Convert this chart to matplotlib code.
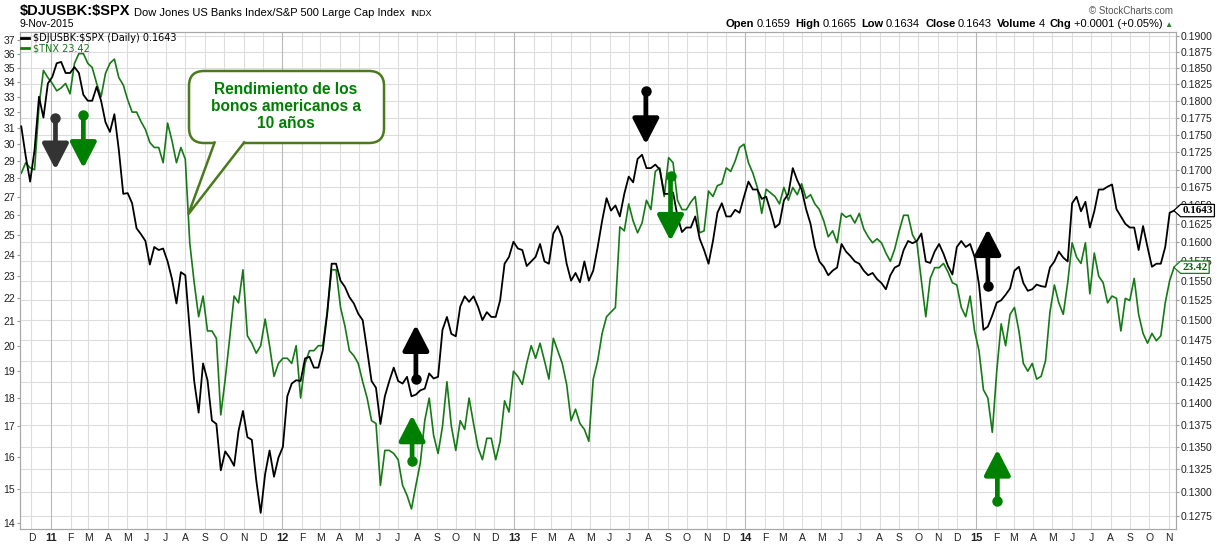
import numpy as np
import pandas as pd
import matplotlib
matplotlib.use('Agg')
import matplotlib.pyplot as plt
import matplotlib.transforms as mtransforms
from matplotlib.lines import Line2D
from matplotlib.patches import FancyBboxPatch, Polygon
from matplotlib.path import Path
from matplotlib.ticker import FixedLocator, FixedFormatter, NullLocator

plt.rcParams['font.family'] = ['Liberation Sans', 'DejaVu Sans']

# weekly values
dates = pd.date_range(end='2015-11-09', periods=261, freq='7D')

tnx = [28.3, 28.9, 28.6, 28.5, 32.4, 34.8, 34.3, 33.9, 33.4, 33.6,
       33.9, 33.2, 35.3, 36.0, 36.0, 35.3, 35.0, 33.9, 33.0, 34.6,
       35.3, 35.6, 34.3, 33.8, 32.8, 32.0, 32.0, 31.4, 30.9, 30.1,
       29.8, 29.8, 28.9, 31.3, 30.2, 28.9, 29.8, 29.1, 24.6, 22.7,
       21.2, 22.1, 20.6, 20.6, 20.3, 17.4, 18.7, 20.3, 22.1, 21.8,
       23.3, 20.4, 20.1, 19.7, 20.0, 21.1, 20.0, 18.8, 19.3, 19.5,
       19.5, 19.3, 20.0, 18.0, 19.3, 19.8, 19.8, 20.0, 20.0, 21.4,
       23.3, 23.3, 21.6, 20.8, 19.8, 19.6, 19.3, 18.6, 18.0, 17.2,
       17.1, 15.1, 16.2, 16.2, 16.1, 15.9, 15.1, 14.8, 14.4, 15.1,
       15.8, 17.2, 18.0, 16.7, 16.1, 17.0, 18.6, 17.0, 16.2, 17.2,
       16.9, 18.0, 17.1, 16.3, 15.9, 16.6, 16.6, 15.9, 16.5, 17.9,
       17.5, 19.0, 18.8, 18.5, 19.3, 20.0, 19.5, 20.1, 19.4, 18.7,
       20.3, 19.8, 19.3, 18.5, 17.2, 17.6, 17.1, 16.9, 16.5, 18.7,
       19.4, 20.5, 21.2, 21.4, 21.6, 25.4, 25.2, 26.6, 25.7, 25.1,
       25.6, 26.8, 26.3, 28.4, 28.6, 27.0, 29.2, 28.9, 26.8, 26.3,
       26.3, 26.7, 27.0, 25.1, 25.2, 27.3, 27.0, 27.6, 27.7, 28.6,
       28.4, 29.0, 29.8, 30.0, 28.9, 28.3, 27.5, 26.1, 27.4, 27.2,
       27.0, 26.6, 27.5, 26.8, 27.5, 27.1, 27.7, 26.9, 27.1, 26.6,
       26.3, 25.7, 24.9, 25.2, 24.6, 26.1, 25.9, 26.0, 25.6, 26.1,
       25.3, 24.9, 24.6, 24.8, 24.6, 24.1, 23.7, 24.3, 25.2, 26.0,
       26.0, 25.0, 24.6, 22.8, 21.2, 22.9, 23.4, 23.4, 23.6, 23.2,
       22.7, 22.6, 21.6, 21.2, 22.1, 20.6, 19.8, 18.3, 18.0, 16.8,
       19.0, 20.9, 20.0, 21.3, 21.6, 20.6, 19.3, 19.0, 19.3, 18.7,
       18.8, 19.4, 21.4, 22.6, 21.8, 21.3, 22.7, 24.6, 23.9, 23.6,
       24.6, 22.2, 24.1, 23.0, 22.7, 21.8, 22.1, 22.0, 20.6, 22.0,
       21.9, 22.9, 21.3, 20.5, 20.1, 20.5, 20.2, 20.4, 21.8, 22.8,
       23.42]

ratio = [0.1762, 0.1719, 0.1683, 0.1728, 0.1806, 0.1775, 0.1826, 0.1836, 0.1857, 0.1859,
         0.1842, 0.1842, 0.1851, 0.1842, 0.1809, 0.1800, 0.1800, 0.1821, 0.1800, 0.1768,
         0.1754, 0.1780, 0.1728, 0.1666, 0.1667, 0.1653, 0.1619, 0.1611, 0.1602, 0.1571,
         0.1594, 0.1590, 0.1592, 0.1575, 0.1552, 0.1521, 0.1561, 0.1557, 0.1488, 0.1426,
         0.1389, 0.1447, 0.1427, 0.1380, 0.1376, 0.1324, 0.1345, 0.1338, 0.1329, 0.1368,
         0.1391, 0.1361, 0.1358, 0.1313, 0.1278, 0.1320, 0.1346, 0.1317, 0.1338, 0.1350,
         0.1408, 0.1423, 0.1427, 0.1426, 0.1453, 0.1455, 0.1442, 0.1442, 0.1463, 0.1508,
         0.1572, 0.1572, 0.1550, 0.1542, 0.1529, 0.1521, 0.1508, 0.1500, 0.1463, 0.1426,
         0.1418, 0.1376, 0.1408, 0.1426, 0.1442, 0.1426, 0.1423, 0.1431, 0.1408, 0.1410,
         0.1415, 0.1417, 0.1435, 0.1429, 0.1431, 0.1488, 0.1504, 0.1483, 0.1480, 0.1517,
         0.1530, 0.1523, 0.1530, 0.1517, 0.1500, 0.1510, 0.1504, 0.1504, 0.1525, 0.1572,
         0.1581, 0.1601, 0.1592, 0.1590, 0.1569, 0.1575, 0.1581, 0.1598, 0.1575, 0.1572,
         0.1612, 0.1622, 0.1607, 0.1572, 0.1550, 0.1560, 0.1548, 0.1575, 0.1550, 0.1563,
         0.1594, 0.1629, 0.1660, 0.1643, 0.1650, 0.1635, 0.1666, 0.1690, 0.1682, 0.1715,
         0.1721, 0.1702, 0.1702, 0.1707, 0.1700, 0.1666, 0.1666, 0.1668, 0.1635, 0.1614,
         0.1620, 0.1620, 0.1635, 0.1605, 0.1590, 0.1572, 0.1602, 0.1640, 0.1653, 0.1635,
         0.1635, 0.1644, 0.1640, 0.1662, 0.1683, 0.1672, 0.1672, 0.1659, 0.1662, 0.1642,
         0.1620, 0.1625, 0.1657, 0.1666, 0.1702, 0.1685, 0.1672, 0.1645, 0.1625, 0.1594,
         0.1575, 0.1568, 0.1557, 0.1563, 0.1567, 0.1598, 0.1588, 0.1582, 0.1575, 0.1572,
         0.1563, 0.1557, 0.1560, 0.1552, 0.1547, 0.1539, 0.1557, 0.1567, 0.1570, 0.1590,
         0.1602, 0.1599, 0.1602, 0.1612, 0.1575, 0.1573, 0.1588, 0.1598, 0.1585, 0.1569,
         0.1558, 0.1594, 0.1602, 0.1594, 0.1598, 0.1581, 0.1545, 0.1488, 0.1492, 0.1506,
         0.1522, 0.1525, 0.1532, 0.1540, 0.1563, 0.1568, 0.1547, 0.1537, 0.1539, 0.1545,
         0.1543, 0.1542, 0.1567, 0.1575, 0.1588, 0.1580, 0.1575, 0.1653, 0.1662, 0.1642,
         0.1655, 0.1620, 0.1642, 0.1672, 0.1672, 0.1676, 0.1679, 0.1645, 0.1635, 0.1625,
         0.1620, 0.1620, 0.1590, 0.1622, 0.1594, 0.1568, 0.1572, 0.1572, 0.1594, 0.1640,
         0.1643]

tnx_ticks = list(range(14, 38))
ratio_ticks = [0.1275, 0.1300, 0.1325, 0.1350, 0.1375, 0.1400, 0.1425, 0.1450, 0.1475,
               0.1500, 0.1525, 0.1550, 0.1575, 0.1600, 0.1625, 0.1650, 0.1675, 0.1700,
               0.1725, 0.1750, 0.1775, 0.1800, 0.1825, 0.1850, 0.1875, 0.1900]
month_starts = pd.date_range('2010-12-01', '2015-11-01', freq='MS')
month_letters = 'JFMAMJJASOND'

# arrows: date, start value, tip value (ratio scale), colour
arrows = [('2011-01-08', 0.1775, 0.1700, '#333333'),
          ('2011-02-21', 0.1779, 0.1702, '#008000'),
          ('2012-07-30', 0.1428, 0.1494, '#000000'),
          ('2012-07-24', 0.1334, 0.1386, '#008000'),
          ('2013-07-28', 0.1815, 0.1736, '#000000'),
          ('2013-09-05', 0.1691, 0.1602, '#008000'),
          ('2015-01-19', 0.1543, 0.1618, '#000000'),
          ('2015-02-03', 0.1291, 0.1347, '#008000')]

green = '#157a15'
W, H = 1227, 544

fig = plt.figure(figsize=(W / 100, H / 100), dpi=100)
ax = fig.add_axes([20 / W, 15 / H, 1156 / W, 497.3 / H])

l_tnx, = ax.plot(dates, tnx, color=green, lw=1.2, label=r'\$TNX 23.42', zorder=3)
ax.set_yscale('log')
ax.set_ylim(13.83, 37.62)
ax.yaxis.set_major_locator(FixedLocator(tnx_ticks))
ax.yaxis.set_major_formatter(FixedFormatter([str(t) for t in tnx_ticks]))
ax.yaxis.set_minor_locator(NullLocator())

ax2 = ax.twinx()
l_rat, = ax2.plot(dates, ratio, color='black', lw=1.3,
                  label=r'\$DJUSBK:\$SPX (Daily) 0.1643', zorder=3)
ax2.set_yscale('log')
ax2.set_ylim(0.1261, 0.19063)
ax2.yaxis.set_major_locator(FixedLocator(ratio_ticks))
ax2.yaxis.set_major_formatter(FixedFormatter(['%.4f' % t for t in ratio_ticks]))
ax2.yaxis.set_minor_locator(NullLocator())

ax.set_xlim(pd.Timestamp('2010-11-13'), pd.Timestamp('2015-11-12'))
ax.set_xticks(month_starts)
labels = ['%02d' % (d.year % 100) if d.month == 1 else month_letters[d.month - 1]
          for d in month_starts]
ax.set_xticklabels(labels)
for lab, d in zip(ax.get_xticklabels(), month_starts):
    lab.set_fontsize(8 if d.month == 1 else 7.5)
    if d.month == 1:
        lab.set_fontweight('bold')
ax.xaxis.set_minor_locator(NullLocator())

# grid
ax.set_axisbelow(True)
ax.grid(axis='x', color='#dddddd', lw=0.8)
for gl, d in zip(ax.xaxis.get_gridlines(), month_starts):
    if d.month == 1:
        gl.set_color('#b8b8b8')
trans = mtransforms.blended_transform_factory(ax.transAxes, ax2.transData)
for v in ratio_ticks:
    ax.add_artist(Line2D([0, 1], [v, v], transform=trans, color='#dddddd', lw=0.8, zorder=0))

for a in (ax, ax2):
    for sp in a.spines.values():
        sp.set_color('#a8a8a8')
ax.tick_params(axis='x', length=0, pad=3, colors='#222222')
ax.tick_params(axis='y', labelsize=7.5, length=2, pad=1.5, color='#999999', labelcolor='#222222')
ax2.tick_params(axis='y', labelsize=7.5, length=2, pad=1.5, color='#999999', labelcolor='#222222')

# arrows
for d, start, tip, col in arrows:
    d = pd.Timestamp(d)
    ax2.annotate('', xy=(d, tip), xytext=(d, start),
                 arrowprops=dict(arrowstyle='-|>,head_length=15.5,head_width=8',
                                 mutation_scale=1, lw=3.4, color=col,
                                 shrinkA=0, shrinkB=0), zorder=6)
    ax2.plot([d], [start], 'o', ms=6.5, color=col, zorder=6)

# callout
box = FancyBboxPatch((0.1462, 0.7762), 0.1687, 0.1448,
                     boxstyle='round,pad=0,rounding_size=0.013',
                     mutation_aspect=1156 / 497.3, transform=ax2.transAxes,
                     fc='white', ec='#4a7a1c', lw=1.8, zorder=7, clip_on=False)
ax2.add_patch(box)
tail = Polygon([(0.1687, 0.7795), (0.1456, 0.6328), (0.1946, 0.7795)], closed=False,
               transform=ax2.transAxes, fc='white', ec='#4a7a1c', lw=1.8, zorder=8)
ax2.add_patch(tail)
ax2.text(0.2301, 0.8496, 'Rendimiento de los\nbonos americanos a\n10 años',
         transform=ax2.transAxes, ha='center', va='center', fontsize=11.2,
         fontweight='bold', color='#008000', linespacing=1.18, zorder=9)

# legend
leg = ax2.legend(handles=[l_rat, l_tnx], loc='upper left', bbox_to_anchor=(0, 1),
                 borderaxespad=0, borderpad=0.15, handlelength=0.8, handletextpad=0.35,
                 labelspacing=0.05, frameon=False, prop={'family': 'DejaVu Sans', 'size': 7})
for t, c in zip(leg.get_texts(), ['black', green]):
    t.set_color(c)
for ln in leg.get_lines():
    ln.set_linewidth(2)


# last value tags on the right
def tag_box(x0, y0, width, height, mutation_size):
    pad = 0.15 * mutation_size
    x0 -= pad
    y0 -= pad
    x1 = x0 + width + 2 * pad
    y1 = y0 + height + 2 * pad
    tip = 0.55 * (y1 - y0)
    return Path([(x0, y0), (x1, y0), (x1, y1), (x0, y1), (x0 - tip, (y0 + y1) / 2), (x0, y0)],
                closed=True)


ax2.annotate('%.4f' % ratio[-1], xy=(1, ratio[-1]), xycoords=('axes fraction', 'data'),
             xytext=(4.5, 0), textcoords='offset points', va='center', ha='left',
             fontsize=8, fontweight='bold', family='Liberation Serif', color='black',
             bbox=dict(boxstyle=tag_box, fc='white', ec='black', lw=0.9),
             annotation_clip=False, zorder=10)
ax2.annotate('%.2f' % tnx[-1], xy=(1, tnx[-1]), xycoords=('axes fraction', ax.transData),
             xytext=(4.5, 0), textcoords='offset points', va='center', ha='left',
             fontsize=8, fontweight='bold', family='Liberation Serif', color='#0b5e0b',
             bbox=dict(boxstyle=tag_box, fc='white', ec=green, lw=0.9),
             annotation_clip=False, zorder=10)

# header
renderer = fig.canvas.get_renderer()


def text_row(pieces, x_px, y_px, align='left'):
    texts = []
    total = 0
    for s, size, weight, color, gap in pieces:
        t = fig.text(0, 1 - y_px / H, s, fontsize=size, fontweight=weight,
                     color=color, va='baseline', ha='left')
        w = t.get_window_extent(renderer).width
        texts.append((t, w, gap))
        total += w + gap
    x = x_px if align == 'left' else x_px - total
    for t, w, gap in texts:
        t.set_x(x / W)
        x += w + gap


text_row([(r'\$DJUSBK:\$SPX', 10.5, 'bold', 'black', 4),
          ('Dow Jones US Banks Index/S&P 500 Large Cap Index', 8, 'normal', 'black', 5),
          ('INDX', 6.5, 'normal', 'black', 0)], 20, 15.5)
text_row([('9-Nov-2015', 7.5, 'normal', 'black', 0)], 20, 26.7)
fig.text(1173 / W, 1 - 14.3 / H, '© StockCharts.com', fontsize=7, color='#555555',
         ha='right', va='baseline')
k = 'black'
text_row([('Open', 8, 'bold', k, 2.5), ('0.1659', 8, 'normal', k, 5),
          ('High', 8, 'bold', k, 2.5), ('0.1665', 8, 'normal', k, 5),
          ('Low', 8, 'bold', k, 2.5), ('0.1634', 8, 'normal', k, 5),
          ('Close', 8, 'bold', k, 2.5), ('0.1643', 8, 'normal', k, 5),
          ('Volume', 8, 'bold', k, 2.5), ('4', 8, 'normal', k, 5),
          ('Chg', 8, 'bold', k, 2.5), ('+0.0001 (+0.05%)', 8, 'normal', k, 2),
          ('▲', 6, 'normal', '#2e7d32', 0)], 1173, 26.7, align='right')

fig.savefig('out.png', dpi=100)
